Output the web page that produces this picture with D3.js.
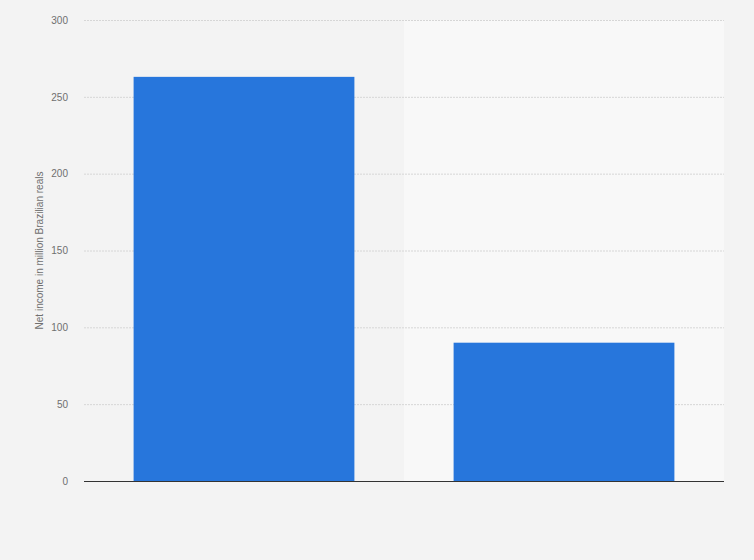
<!DOCTYPE html>
<html>
<head>
<meta charset="utf-8">
<script src="https://cdn.jsdelivr.net/npm/d3@7"></script>
<style>
  html, body { margin: 0; padding: 0; background: #f3f3f3; }
  svg { display: block; font-family: "Liberation Sans", Arial, sans-serif; }
</style>
</head>
<body>
<div id="barChart"></div>
<script>
var width = 754;
var height = 560;
var margin = {"top": 20, "right": 30, "bottom": 79, "left": 84};

// data
var categories = ["2019", "2020"];
var values = [263, 90];
var yTicks = [0, 50, 100, 150, 200, 250, 300];

var svg = d3.select("div#barChart").append("svg")
    .attr("width", width)
    .attr("height", height);

svg.append("rect")
    .attr("width", width)
    .attr("height", height)
    .attr("fill", "#f3f3f3");

// scales
var xScale = d3.scaleBand()
    .domain(categories)
    .range([margin.left, width - margin.right])
    .paddingInner(0.31)
    .paddingOuter(0.155);

var yScale = d3.scaleLinear()
    .domain([0, 300])
    .range([height - margin.bottom, margin.top]);

// lighter background on the second half of the plot
var half = (width - margin.right - margin.left) / 2;
svg.append("rect")
    .attr("x", margin.left + half)
    .attr("y", margin.top)
    .attr("width", half)
    .attr("height", height - margin.bottom - margin.top)
    .attr("fill", "#f8f8f8");

// grid
svg.append("g")
    .selectAll("line")
    .data(yTicks.filter(function(d){ return d > 0; }))
    .enter().append("line")
    .attr("x1", margin.left)
    .attr("x2", width - margin.right)
    .attr("y1", function(d){ return yScale(d) + 0.5; })
    .attr("y2", function(d){ return yScale(d) + 0.5; })
    .attr("stroke", "#d6d6d6")
    .attr("stroke-width", 1)
    .attr("stroke-dasharray", "2,1");

// bars
svg.selectAll("rect.bar")
    .data(values)
    .enter().append("rect")
    .attr("class", "bar")
    .attr("x", function(d, i){ return xScale(categories[i]); })
    .attr("y", function(d){ return yScale(d); })
    .attr("width", xScale.bandwidth())
    .attr("height", function(d){ return yScale(0) - yScale(d); })
    .attr("fill", "#2776dc");

// y axis
var yAxis = d3.axisLeft()
    .scale(yScale)
    .tickValues(yTicks)
    .tickSize(0)
    .tickPadding(16);

var gy = svg.append("g")
    .attr("transform", "translate(" + [margin.left, 0] + ")")
    .call(yAxis);
gy.select(".domain").remove();
gy.selectAll("text")
    .attr("fill", "#6f6f6f")
    .style("font-size", "10px");

// baseline
svg.append("line")
    .attr("x1", margin.left)
    .attr("x2", width - margin.right)
    .attr("y1", yScale(0) + 0.5)
    .attr("y2", yScale(0) + 0.5)
    .attr("stroke", "#333")
    .attr("stroke-width", 1.2);

// y title
svg.append("text")
    .attr("transform", "translate(43," + ((margin.top + height - margin.bottom) / 2) + ") rotate(-90)")
    .attr("text-anchor", "middle")
    .attr("fill", "#6f6f6f")
    .style("font-size", "10px")
    .text("Net income in million Brazilian reals");
</script>
</body>
</html>
